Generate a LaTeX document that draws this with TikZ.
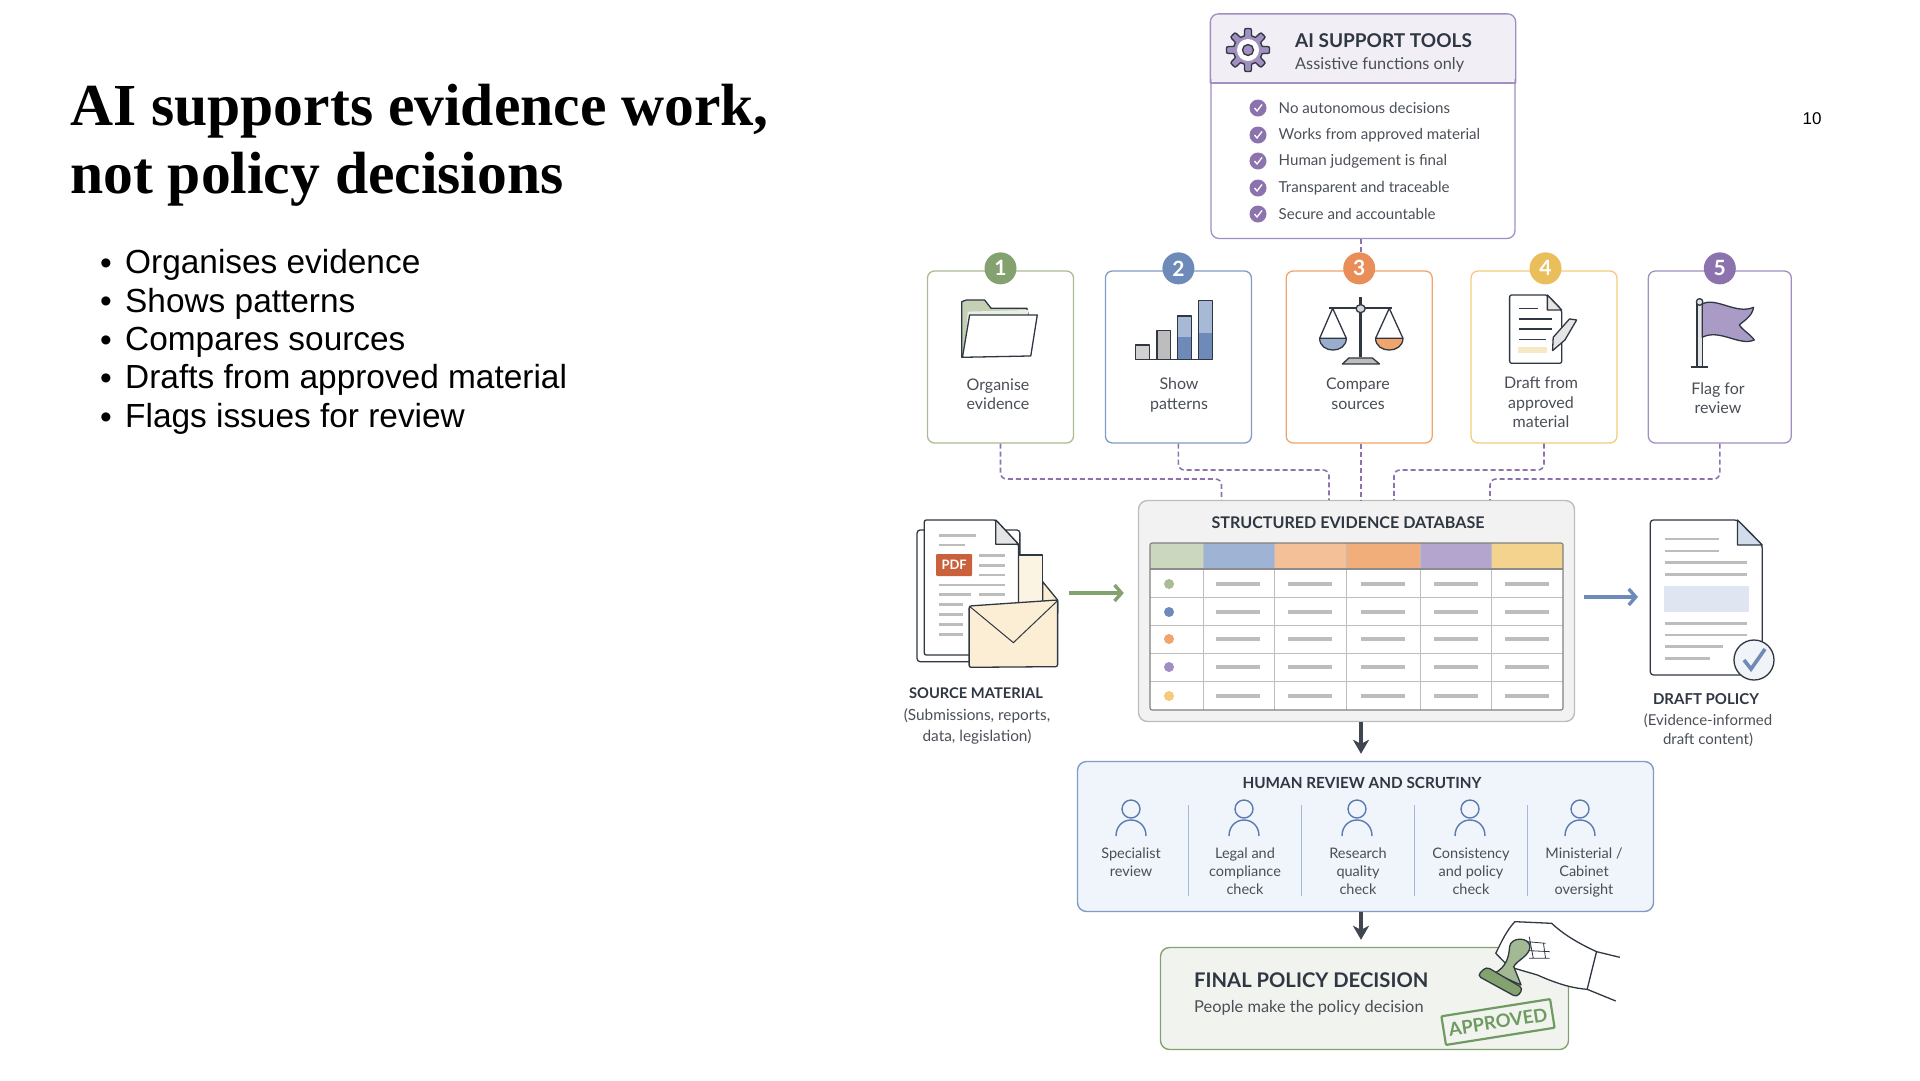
\documentclass[tikz,border=0pt]{standalone}
\usepackage{fontspec}
\setmainfont{Lato}
\newfontfamily\titlefont{Liberation Serif}
\newfontfamily\bodyfont{Liberation Sans}
\usetikzlibrary{positioning}
\usetikzlibrary{arrows.meta}
\definecolor{ink}{HTML}{2F3742}
\definecolor{soft}{HTML}{4A4F57}
\definecolor{sgreen}{HTML}{A9BC94}
\definecolor{sblue}{HTML}{7F9BC6}
\definecolor{sorange}{HTML}{EFA56B}
\definecolor{syellow}{HTML}{F2CB7B}
\definecolor{spurple}{HTML}{A08FC0}
\definecolor{bgreen}{HTML}{84A26F}
\definecolor{bblue}{HTML}{6D8AB8}
\definecolor{borange}{HTML}{E98E58}
\definecolor{byellow}{HTML}{E9BE5B}
\definecolor{bpurple}{HTML}{8C73AE}
\definecolor{rule}{HTML}{BDBDBD}
\definecolor{stampgreen}{HTML}{6F9A62}
\definecolor{humanfill}{HTML}{F0F4FB}
\definecolor{personblue}{HTML}{5B7BB0}
\definecolor{flowgrey}{HTML}{3F4650}
\tikzstyle{card} = [draw, line width=1.3pt, rounded corners=7pt, fill=white, inner sep=0pt, minimum height=172, minimum width=146]
\tikzstyle{badge} = [circle, inner sep=0pt, minimum size=32, text=white, font=\fontsize{21}{21}\selectfont\bfseries]
\tikzstyle{cardtxt} = [align=center, inner sep=0pt, text=soft, font=\fontsize{16}{19.5}\selectfont]
\tikzstyle{checktxt} = [anchor=west, inner sep=0pt, text=soft, font=\fontsize{15.1}{17}\selectfont]
\tikzstyle{headtxt} = [inner sep=0pt, text=ink, font=\fontsize{16.1}{20}\selectfont\bfseries]
\tikzstyle{smalltxt} = [align=center, inner sep=0pt, text=soft, font=\fontsize{14.5}{18}\selectfont]
\tikzstyle{bulleted} = [inner sep=0pt, text height=26, text depth=12, font=\bodyfont\fontsize{33.4}{38}\selectfont, label={[label distance=13pt, inner sep=0pt, font=\bodyfont\fontsize{33.4}{38}\selectfont]left:\textbullet}]
\tikzstyle{link} = [bpurple, line width=1.6pt, dash pattern=on 5pt off 3pt, rounded corners=6pt]
\tikzstyle{flow} = [draw=flowgrey, line width=3.2pt, -{Stealth[length=14pt, width=16pt, inset=4pt]}]
\tikzstyle{feed} = [line width=3.4pt, -{Straight Barb[length=7pt, width=16pt]}]
\tikzstyle{iconline} = [draw=ink, line width=1.3pt, line join=round]
\tikzstyle{docstroke} = [rule, line width=2.4pt]
\tikzstyle{personline} = [personblue, line width=1.4pt]
\tikzstyle{topzoom} = [shift={(900,0)}, x=0.6506pt, y=-0.3333pt]
\tikzstyle{midzoom} = [shift={(880,480)}, x=0.6506pt, y=-0.3333pt]
\tikzstyle{lowzoom} = [shift={(1060,740)}, x=0.408pt, y=-0.3333pt]
\newcommand{\tick}[1]{%
  \fill[bpurple] (1258,#1) circle[radius=8.5];
  \draw[white, line width=1.3pt] (1254.5,#1) -- (1257,#1+3) -- (1262,#1-3.5);}
\newcommand{\dbrow}[2]{%
  \fill[#2] (1169,#1) circle[radius=5];
  \draw[rule, line width=3.4pt] (1216,#1) -- (1260,#1) (1288,#1) -- (1332,#1) (1361,#1) -- (1405,#1) (1434,#1) -- (1478,#1) (1505,#1) -- (1549,#1);}
\newcommand{\docline}[3]{\draw[docstroke] (#1,#3) -- (#2,#3);}
\newcommand{\reviewer}[1]{%
  \draw[personline] (#1,809) circle[radius=9];
  \draw[personline] (#1-15,836) .. controls (#1-15,826) and (#1-8,820) .. (#1,820) .. controls (#1+8,820) and (#1+15,826) .. (#1+15,836);}

\begin{document}
\begin{tikzpicture}[x=1pt, y=-1pt]
\useasboundingbox (0,0) rectangle (1920,1080);

% Left column
\node[anchor=base west, inner sep=0pt, font=\titlefont\fontsize{59.6}{68}\selectfont\bfseries] (title1) at (70,125) {AI supports evidence work,};
\node[anchor=base west, inner sep=0pt, font=\titlefont\fontsize{59.6}{68}\selectfont\bfseries] (title2) at (70,193) {not policy decisions};
\node[bulleted, anchor=base west]                          (item1) at (125,273.6) {Organises evidence};
\node[bulleted, below=0pt of item1.south west, anchor=north west] (item2) {Shows patterns};
\node[bulleted, below=0pt of item2.south west, anchor=north west] (item3) {Compares sources};
\node[bulleted, below=0pt of item3.south west, anchor=north west] (item4) {Drafts from approved material};
\node[bulleted, below=0pt of item4.south west, anchor=north west] (item5) {Flags issues for review};
\node[inner sep=0pt, font=\bodyfont\fontsize{17}{17}\selectfont] (pageno) at (1812,119) {10};

% AI support tools
\node[draw=spurple, line width=1.3pt, rounded corners=8pt, inner sep=0pt, minimum width=304, minimum height=224] (ai) at (1363,126.5) {};
\fill[spurple!15, rounded corners=8pt] (ai.north west) -- (ai.north east) -- (ai.east |- 0,83) -- (ai.west |- 0,83) -- cycle;
\draw[spurple, line width=1.3pt, rounded corners=8pt] (ai.west |- 0,83) -- (ai.north west) -- (ai.north east) -- (ai.east |- 0,83);
\draw[spurple, line width=1.3pt] (ai.west |- 0,83) -- (ai.east |- 0,83);
\draw[shift={(1248,50)}, iconline, fill=spurple] plot[domain=0:360, samples=145] (\x:{18+3.5*max(-1,min(1,3*cos(8*\x)))}) -- cycle;
\fill[white] (1248,50) circle[radius=11];
\draw[iconline, fill=spurple] (1248,50) circle[radius=5.5];
\node[headtxt, anchor=west, font=\fontsize{19}{20}\selectfont\bfseries] (aititle) at (1295,41) {AI SUPPORT TOOLS};
\node[checktxt, font=\fontsize{16.3}{18}\selectfont] (aisub) at (1295,65) {Assistive functions only};
\tick{108}\tick{135}\tick{161}\tick{188}\tick{214}
\node[checktxt] (chk1) at (1278.5,108) {No autonomous decisions};
\node[checktxt] (chk2) at (1278.5,135) {Works from approved material};
\node[checktxt] (chk3) at (1278.5,161) {Human judgement is final};
\node[checktxt] (chk4) at (1278.5,188) {Transparent and traceable};
\node[checktxt] (chk5) at (1278.5,214) {Secure and accountable};

% Tool cards
\node[card, draw=sgreen]                           (card1) at (1000.5,357) {};
\node[card, draw=sblue,   right = 30.6pt of card1] (card2) {};
\node[card, draw=sorange, right = 33.5pt of card2] (card3) {};
\node[card, draw=syellow, right = 37.5pt of card3] (card4) {};
\node[card, draw=spurple, right = 30pt of card4, minimum width=143] (card5) {};
\node[badge, fill=bgreen,  yshift=2pt] (b1) at (card1.north) {1};
\node[badge, fill=bblue,   yshift=2pt] (b2) at (card2.north) {2};
\node[badge, fill=borange, yshift=2pt] (b3) at (card3.north) {3};
\node[badge, fill=byellow, yshift=2pt, xshift=1.5pt] (b4) at (card4.north) {4};
\node[badge, fill=bpurple, yshift=2pt] (b5) at (card5.north) {5};
\node[cardtxt] (lab1) at (998,394)  {Organise\\evidence};
\node[cardtxt] (lab2) at (1179,395) {Show\\patterns};
\node[cardtxt] (lab3) at (1358,394) {Compare\\sources};
\node[cardtxt] (lab4) at (1541,402.5) {Draft from\\approved\\material};
\node[cardtxt] (lab5) at (1718,398) {Flag for\\review};

% Card icons
\begin{scope}[topzoom]
% folder
\draw[iconline, fill=sgreen!70] (95,1072) -- (95,905) -- (102,900) -- (130,900) -- (140,925) -- (195,925) -- (197,945) -- cycle;
\fill[sgreen!25] (102,1000) -- (104,935) -- (197,930) -- (197,945) -- cycle;
\draw[iconline, fill=white] (107,945) -- (211,945) -- (201,1068) -- (96,1072) -- cycle;
% bars
\draw[iconline, fill=rule!70] (362,1078) rectangle (384,1035);
\draw[iconline, fill=rule] (395,1078) rectangle (416,992);
\draw[iconline, fill=bblue!60] (427,1078) rectangle (448,948);
\fill[bblue] (428,1076) rectangle (447,1010);
\draw[iconline, fill=bblue!60] (459,1078) rectangle (480,902);
\fill[bblue] (460,1076) rectangle (479,998);
\draw[iconline] (362,1079) -- (480,1079);
% scales
\draw[iconline, line width=2pt] (660,923) -- (756,923);
\draw[iconline, line width=2.5pt] (708,892) -- (708,1072);
\draw[iconline, fill=rule!60] (708,926) ellipse (7 and 12);
\draw[iconline, fill=rule] (680,1092) -- (690,1074) -- (726,1074) -- (737,1092) -- cycle;
\draw[iconline] (645,1015) -- (665,925) -- (686,1015) (731,1015) -- (752,925) -- (773,1015);
\draw[iconline, fill=bblue!70] (645,1015) .. controls (645,1062) and (686,1062) .. (686,1015) -- cycle;
\draw[iconline, fill=sorange] (731,1015) .. controls (731,1062) and (773,1062) .. (773,1015) -- cycle;
% page and pen
\draw[iconline, fill=white, rounded corners=2pt] (937,885) -- (995,885) -- (1017,930) -- (1017,1090) -- (937,1090) -- cycle;
\draw[iconline, fill=rule!40] (995,885) -- (995,930) -- (1017,930) -- cycle;
\draw[iconline, line width=1.6pt] (952,925) -- (980,925) (952,957) -- (1002,957) (952,987) -- (1002,987) (952,1018) -- (993,1018);
\fill[syellow!45] (950,1042) rectangle (995,1060);
\draw[iconline, fill=rule!40] (1003,1052) -- (1004,1012) -- (1029,957) -- (1040,960) -- (1022,1020) -- cycle;
% flag
\draw[iconline, fill=rule!40] (1225,905) rectangle (1233,1100);
\draw[iconline, line width=1.8pt] (1215,1101) -- (1242,1101);
\draw[iconline, fill=rule!40] (1229,906) ellipse (5 and 10);
\draw[iconline, fill=spurple!90] (1233,912) .. controls (1255,890) and (1285,945) .. (1312,922) .. controls (1310,950) and (1295,965) .. (1290,975) .. controls (1295,990) and (1308,1005) .. (1313,1020) .. controls (1290,1040) and (1260,985) .. (1233,1012) -- cycle;
\end{scope}

% Evidence database
\node[draw=rule, line width=1.4pt, fill=black!5, rounded corners=9pt, inner sep=0pt, minimum width=436, minimum height=221] (db) at (1356.5,611) {};
\node[headtxt] (dbtitle) at (1348,523) {STRUCTURED EVIDENCE DATABASE};
\fill[white] (1150,569) rectangle (1563,710);
\fill[sgreen!60]   (1150,543) rectangle (1203,569);
\fill[sblue!75]    (1203,543) rectangle (1274,569);
\fill[sorange!70]  (1274,543) rectangle (1346.5,569);
\fill[sorange!90]  (1346.5,543) rectangle (1420,569);
\fill[spurple!80]  (1420,543) rectangle (1491,569);
\fill[syellow!85]  (1491,543) rectangle (1563,569);
\draw[rule, line width=0.9pt] (1150,597) -- (1563,597) (1150,625) -- (1563,625) (1150,653) -- (1563,653) (1150,681) -- (1563,681);
\draw[rule, line width=0.9pt] (1203,543) -- (1203,710) (1274,543) -- (1274,710) (1346.5,543) -- (1346.5,710) (1420,543) -- (1420,710) (1491,543) -- (1491,710);
\draw[black!45, line width=1.2pt] (1150,569) -- (1563,569);
\draw[black!50, line width=1.1pt, rounded corners=2pt] (1150,543) rectangle (1563,710);
\dbrow{584}{sgreen}
\dbrow{612}{bblue}
\dbrow{639}{sorange}
\dbrow{667}{spurple}
\dbrow{696}{syellow}

% Source material and draft policy
\begin{scope}[midzoom]
\draw[iconline, fill=white, rounded corners=3pt] (57,150) -- (57,545) -- (215,545) -- (215,150) -- cycle;
\draw[iconline, fill=syellow!22] (150,225) -- (250,225) -- (250,400) -- (150,400) -- cycle;
\draw[iconline, fill=white, rounded corners=2pt] (68,120) -- (178,120) -- (213,193) -- (213,525) -- (68,525) -- cycle;
\draw[iconline, fill=rule!40] (178,120) -- (178,193) -- (213,193) -- cycle;
\docline{90}{148}{167}\docline{90}{130}{195}\docline{152}{192}{227}\docline{152}{192}{256}\docline{152}{192}{285}
\docline{90}{192}{315}\docline{90}{140}{344}\docline{152}{192}{344}\docline{90}{128}{374}\docline{90}{128}{403}\docline{90}{128}{433}\docline{90}{128}{463}
\node[fill=borange!80!red!85!black, rounded corners=1pt, text=white, inner sep=0pt, minimum width=36, minimum height=22, font=\fontsize{13}{13}\selectfont\bfseries] (pdf) at (114,255) {PDF};
\draw[iconline, fill=syellow!35] (250,305) -- (273,360) -- (273,400) -- (250,400) -- cycle;
\draw[iconline, fill=syellow!32, rounded corners=2pt] (137,378) -- (273,360) -- (273,560) -- (137,562) -- cycle;
\draw[iconline, line width=1pt] (137,378) -- (205,488) -- (273,362);
% draft page
\draw[iconline, fill=white, rounded corners=3pt] (1184,120) -- (1318,120) -- (1356,195) -- (1356,585) -- (1184,585) -- cycle;
\draw[iconline, fill=sblue!35] (1318,120) -- (1318,195) -- (1356,195) -- cycle;
\docline{1207}{1290}{177}\docline{1207}{1290}{213}\docline{1207}{1333}{248}\docline{1207}{1333}{284}
\fill[sblue!25] (1205,317) rectangle (1335,397);
\docline{1207}{1333}{430}\docline{1207}{1333}{465}\docline{1207}{1295}{500}\docline{1207}{1275}{535}
\end{scope}
\draw[iconline, fill=sblue!12] (1754,660) circle[radius=20];
\draw[bblue, line width=3.6pt] (1744,660) -- (1751,669) -- (1765,649);
\node[smalltxt, font=\fontsize{14.7}{15}\selectfont\bfseries, text=ink] (srctitle) at (976,693) {SOURCE MATERIAL};
\node[smalltxt, font=\fontsize{15.4}{21}\selectfont] (srcsub) at (977,726) {(Submissions, reports,\\data, legislation)};
\node[smalltxt, font=\fontsize{15}{15}\selectfont\bfseries, text=ink] (drafttitle) at (1706,699) {DRAFT POLICY};
\node[smalltxt, font=\fontsize{15}{19}\selectfont] (draftsub) at (1708,730) {(Evidence-informed\\draft content)};

% Human review
\node[draw=sblue, line width=1.4pt, fill=humanfill, rounded corners=9pt, inner sep=0pt, minimum width=576, minimum height=150] (human) at (1365.5,836.5) {};
\node[headtxt, font=\fontsize{15.3}{20}\selectfont\bfseries] (humantitle) at (1362,783) {HUMAN REVIEW AND SCRUTINY};
\reviewer{1131}\reviewer{1244}\reviewer{1357}\reviewer{1470}\reviewer{1580}
\draw[sblue!70, line width=1pt] (1188,805) -- (1188,896) (1301,805) -- (1301,896) (1414,805) -- (1414,896) (1527,805) -- (1527,896);
\node[smalltxt, anchor=north] (rev1) at (1131,848) {Specialist\\review};
\node[smalltxt, anchor=north] (rev2) at (1245,848) {Legal and\\compliance\\check};
\node[smalltxt, anchor=north] (rev3) at (1358,848) {Research\\quality\\check};
\node[smalltxt, anchor=north] (rev4) at (1471,848) {Consistency\\and policy\\check};
\node[smalltxt, anchor=north] (rev5) at (1584,848) {Ministerial /\\Cabinet\\oversight};

% Final decision
\node[draw=bgreen, line width=1.4pt, fill=sgreen!16, rounded corners=9pt, inner sep=0pt, minimum width=408, minimum height=102] (final) at (1364.5,998.5) {};
\node[headtxt, anchor=west, font=\fontsize{20.2}{24}\selectfont\bfseries] (finaltitle) at (1194,980) {FINAL POLICY DECISION};
\node[checktxt, font=\fontsize{16.4}{18}\selectfont] (finalsub) at (1194,1008) {People make the policy decision};
\node[draw=stampgreen, line width=2.2pt, rounded corners=1pt, rotate=9, inner sep=0pt, minimum width=110, minimum height=29, text=stampgreen, font=\fontsize{18.5}{20}\selectfont\bfseries] (stamp) at (1498,1022) {APPROVED};
\begin{scope}[lowzoom]
% hand with stamp
\draw[iconline, fill=white] (1068,640) .. controls (1080,610) and (1095,570) .. (1115,545) -- (1205,550) .. controls (1240,590) and (1280,615) .. (1315,635) -- (1292,748) .. controls (1260,745) and (1225,735) .. (1170,705) -- (1100,680) -- cycle;
\draw[iconline] (1315,635) -- (1372,652) (1292,748) -- (1362,783);
\draw[iconline, line width=0.8pt] (1150,590) -- (1160,655) (1185,610) -- (1190,655) (1145,605) -- (1190,610) (1150,632) -- (1200,635) (1150,655) -- (1200,655);
\draw[iconline, fill=bgreen!75] (1102,620) .. controls (1105,590) and (1150,590) .. (1152,620) .. controls (1150,650) and (1120,660) .. (1112,680) -- (1130,735) -- (1065,700) .. controls (1095,680) and (1100,650) .. (1102,620) -- cycle;
\draw[iconline, fill=bgreen, rounded corners=4pt] (1023,707) -- (1045,680) -- (1135,745) -- (1120,772) -- cycle;
\end{scope}

% Edges
\coordinate (spine) at (1361,0);
\coordinate (in1) at (1221.5,500);
\coordinate (in2) at (1329,500);
\coordinate (in4) at (1394,500);
\coordinate (in5) at (1490,500);
\coordinate (srcdoc) at (1060,593);
\coordinate (draftdoc) at (1650,597);
\draw[link] (spine |- ai.south) -- (spine |- b3.north);
\draw[link] (card1.south) |- (in1 |- 0,479) -- (in1);
\draw[link] (card2.south) |- (in2 |- 0,470) -- (in2);
\draw[link] (spine |- card3.south) -- (spine |- db.north);
\draw[link] (card4.south) |- (in4 |- 0,470) -- (in4);
\draw[link] (card5.south) |- (in5 |- 0,479) -- (in5);
\draw[feed, bgreen, shorten <=9pt, shorten >=14pt] (srcdoc) -- (db.west |- srcdoc);
\draw[feed, bblue, shorten <=9pt, shorten >=12pt] (db.east |- draftdoc) -- (draftdoc);
\draw[flow, shorten >=7pt] (spine |- db.south) -- (spine |- human.north);
\draw[flow, shorten >=7pt] (spine |- human.south) -- (spine |- final.north);
\end{tikzpicture}
\end{document}
